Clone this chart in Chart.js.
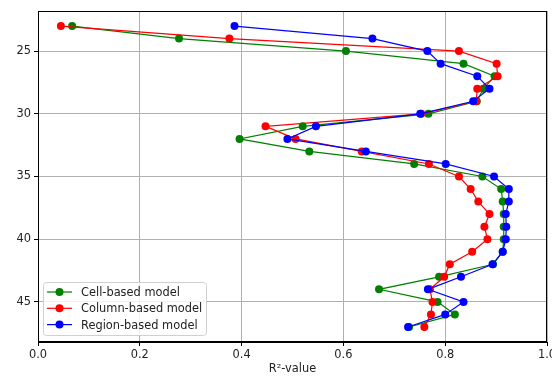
<!DOCTYPE html>
<html>
<head>
<meta charset="utf-8">
<script src="https://cdn.jsdelivr.net/npm/chart.js@4.4.1/dist/chart.umd.min.js"></script>
<style>
  html, body { margin: 0; padding: 0; background: #fff; }
  #wrap { width: 552px; height: 377px; }
</style>
</head>
<body>
<div id="wrap"><canvas id="chart"></canvas></div>
<script>
// Data
const depths = [23, 24, 25, 26, 27, 28, 29, 30, 31, 32, 33, 34, 35, 36, 37, 38, 39, 40, 41, 42, 43, 44, 45, 46, 47];
const cellValues = [0.067, 0.277, 0.605, 0.836, 0.897, 0.875, 0.862, 0.767, 0.520, 0.396, 0.533, 0.739, 0.873, 0.910, 0.913, 0.915, 0.915, 0.915, 0.913, 0.894, 0.788, 0.670, 0.785, 0.819, 0.729];
const columnValues = [0.045, 0.376, 0.827, 0.901, 0.903, 0.863, 0.861, 0.753, 0.447, 0.506, 0.636, 0.768, 0.827, 0.850, 0.865, 0.887, 0.877, 0.883, 0.853, 0.809, 0.798, 0.770, 0.775, 0.772, 0.759];
const regionValues = [0.386, 0.657, 0.765, 0.791, 0.863, 0.887, 0.855, 0.751, 0.546, 0.490, 0.644, 0.801, 0.896, 0.925, 0.925, 0.919, 0.920, 0.919, 0.913, 0.893, 0.831, 0.766, 0.836, 0.800, 0.727];
const seriesNames = ["Cell-based model", "Column-based model", "Region-based model"];
const yTicks = [25, 30, 35, 40, 45];
const xTicks = [0, 0.2, 0.4, 0.6, 0.8, 1.0];

const FONT = "'DejaVu Sans', sans-serif";
const colors = ["#008000", "#ff0000", "#0000ff"];

function toPoints(values) {
    return values.map((v, i) => ({ x: v, y: depths[i] }));
}

// Draws the full axes frame and a matplotlib style legend inside the plot
const framePlugin = {
    id: "frame",
    afterDraw(chart) {
        const ctx = chart.ctx;
        const a = chart.chartArea;
        ctx.save();
        ctx.strokeStyle = "#000";
        ctx.lineWidth = 1;
        ctx.strokeRect(a.left + 0.5, a.top + 0.5, a.right - a.left - 1, a.bottom - a.top - 1);

        // legend box
        const bx = a.left + 5, by = 282, bw = 163, bh = 53;
        ctx.fillStyle = "rgba(255,255,255,0.8)";
        ctx.strokeStyle = "#d0d0d0";
        ctx.beginPath();
        ctx.roundRect(bx + 0.5, by + 0.5, bw, bh, 3);
        ctx.fill();
        ctx.stroke();

        ctx.font = "11.4px " + FONT;
        ctx.textBaseline = "middle";
        chart.data.datasets.forEach((ds, i) => {
            const y = by + 10 + i * 16.3;
            ctx.strokeStyle = ds.borderColor;
            ctx.lineWidth = 1.2;
            ctx.beginPath();
            ctx.moveTo(bx + 4, y);
            ctx.lineTo(bx + 29, y);
            ctx.stroke();
            ctx.fillStyle = ds.backgroundColor;
            ctx.beginPath();
            ctx.arc(bx + 16.5, y, 4, 0, Math.PI * 2);
            ctx.fill();
            ctx.fillStyle = "#222";
            ctx.fillText(ds.label, bx + 38, y + 1);
        });
        ctx.restore();
    }
};

new Chart(document.getElementById("chart"), {
    type: "scatter",
    data: {
        datasets: [cellValues, columnValues, regionValues].map((vals, i) => ({
            label: seriesNames[i],
            data: toPoints(vals),
            showLine: true,
            borderColor: colors[i],
            backgroundColor: colors[i],
            borderWidth: 1.2,
            pointRadius: 4,
            pointHoverRadius: 4,
            pointBorderWidth: 0,
            order: 3 - i
        }))
    },
    options: {
        responsive: true,
        maintainAspectRatio: false,
        animation: false,
        layout: { padding: { top: 11, right: 5, left: 0, bottom: 0 } },
        plugins: {
            legend: { display: false },
            tooltip: { enabled: false }
        },
        scales: {
            x: {
                type: "linear",
                min: 0,
                max: 1,
                afterBuildTicks: s => { s.ticks = xTicks.map(v => ({ value: v })); },
                afterFit: s => { s.height = 35; s.paddingRight = 0; s.paddingLeft = 0; },
                grid: { color: "#b0b0b0", tickColor: "#000", tickLength: 4 },
                border: { color: "#000" },
                ticks: {
                    color: "#222",
                    padding: 2,
                    font: { family: FONT, size: 11.4 },
                    callback: v => v.toFixed(1)
                },
                title: {
                    display: true,
                    text: "R²-value",
                    color: "#222",
                    padding: { top: 0, bottom: 1 },
                    font: { family: FONT, size: 11.4 }
                }
            },
            y: {
                type: "linear",
                reverse: true,
                min: 21.8,
                max: 48.2,
                afterBuildTicks: s => { s.ticks = yTicks.map(v => ({ value: v })); },
                afterFit: s => { s.width = 38; },
                grid: { color: "#b0b0b0", tickColor: "#000", tickLength: 4 },
                border: { color: "#000" },
                ticks: {
                    color: "#222",
                    padding: 3,
                    font: { family: FONT, size: 11.4 }
                }
            }
        }
    },
    plugins: [framePlugin]
});
</script>
</body>
</html>
